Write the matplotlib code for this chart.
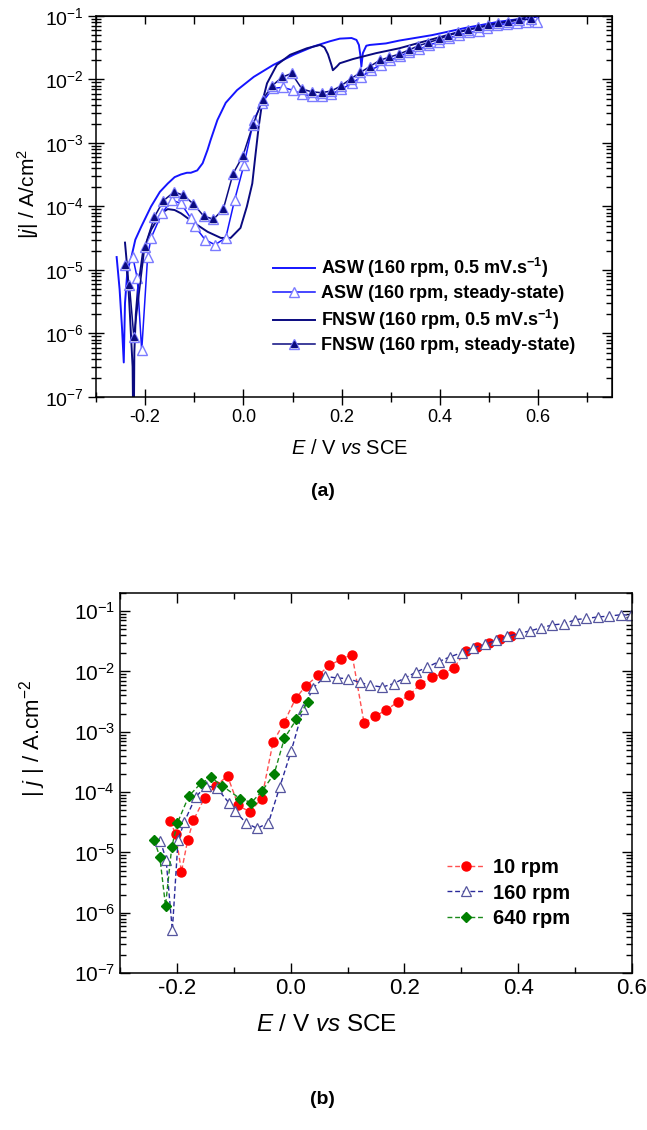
import numpy as np
import matplotlib
matplotlib.use('Agg')
import matplotlib.pyplot as plt
from matplotlib.ticker import MultipleLocator, LogLocator, NullFormatter, FormatStrFormatter
from matplotlib.lines import Line2D
from matplotlib.legend_handler import HandlerTuple

plt.rcParams['font.family'] = ['Liberation Sans', 'DejaVu Sans']
plt.rcParams['mathtext.fontset'] = 'custom'
plt.rcParams['mathtext.rm'] = 'Liberation Sans'
plt.rcParams['mathtext.it'] = 'Liberation Sans:italic'
plt.rcParams['mathtext.bf'] = 'Liberation Sans:bold'
plt.rcParams['mathtext.default'] = 'regular'
plt.rcParams['axes.unicode_minus'] = False

# ---- panel (a) data ----
# ASW, 160 rpm, 0.5 mV/s sweep
asw_pd_E = [-0.258, -0.252, -0.247, -0.2435, -0.241, -0.236, -0.228, -0.220, -0.208, -0.188,
            -0.170, -0.154, -0.140, -0.127, -0.115, -0.107, -0.094, -0.083, -0.073, -0.067,
            -0.053, -0.036, -0.013, 0.021, 0.061, 0.102, 0.142, 0.176, 0.196, 0.220,
            0.230, 0.235, 0.238, 0.240, 0.243, 0.250, 0.257, 0.290, 0.317, 0.384,
            0.452, 0.519, 0.586, 0.600]
asw_pd_j = [1.6e-5, 5e-6, 1.2e-6, 3.5e-7, 3e-6, 1.0e-5, 1.6e-5, 3.0e-5, 4.8e-5, 1.0e-4,
            1.7e-4, 2.3e-4, 2.9e-4, 3.2e-4, 3.4e-4, 3.4e-4, 3.7e-4, 4.8e-4, 7.8e-4, 1.1e-3,
            2.3e-3, 4.3e-3, 6.8e-3, 1.1e-2, 1.7e-2, 2.45e-2, 3.3e-2, 4.0e-2, 4.4e-2, 4.5e-2,
            4.2e-2, 3.5e-2, 2.4e-2, 1.6e-2, 2.6e-2, 3.4e-2, 3.5e-2, 3.7e-2, 4.1e-2, 5.0e-2,
            6.5e-2, 8.1e-2, 9.5e-2, 9.8e-2]

# FNSW, 160 rpm, 0.5 mV/s sweep
fnsw_pd_E = [-0.241, -0.236, -0.231, -0.2255, -0.2235, -0.222, -0.219, -0.215, -0.205, -0.188,
             -0.168, -0.154, -0.140, -0.127, -0.100, -0.073, -0.046, -0.026, -0.006, 0.007,
             0.018, 0.024, 0.031, 0.038, 0.048, 0.068, 0.095, 0.129, 0.156, 0.165,
             0.172, 0.179, 0.182, 0.190, 0.196, 0.223, 0.270, 0.317, 0.384, 0.452,
             0.519, 0.586, 0.600]
fnsw_pd_j = [2.7e-5, 1.0e-5, 2e-6, 3e-7, 1e-8, 5e-7, 2e-6, 4.9e-6, 1.8e-5, 4.3e-5,
             7.8e-5, 9.1e-5, 8.8e-5, 7.8e-5, 5.5e-5, 4.0e-5, 3.2e-5, 3.2e-5, 4.6e-5, 1.0e-4,
             2.3e-4, 6.0e-4, 1.8e-3, 4.3e-3, 8.7e-3, 1.7e-2, 2.45e-2, 3.1e-2, 3.5e-2, 3.2e-2,
             2.5e-2, 1.7e-2, 1.4e-2, 1.6e-2, 1.8e-2, 2.1e-2, 2.6e-2, 3.1e-2, 4.3e-2, 6.0e-2,
             7.6e-2, 9.8e-2, 1.0e-1]

# ASW steady-state
asw_ss_E = [-0.225, -0.216, -0.207, -0.195, -0.188, -0.166, -0.146, -0.127, -0.107, -0.099,
            -0.078, -0.058, -0.036, -0.018, 0.001, 0.021, 0.038, 0.060, 0.081, 0.100,
            0.119, 0.139, 0.159, 0.179, 0.199, 0.220, 0.240, 0.259, 0.279, 0.298,
            0.319, 0.337, 0.358, 0.378, 0.398, 0.418, 0.438, 0.459, 0.479, 0.496,
            0.516, 0.536, 0.556, 0.576, 0.597]
asw_ss_j = [1.58e-5, 7.4e-6, 5.4e-7, 1.6e-5, 3.2e-5, 7.8e-5, 1.26e-4, 1.12e-4, 6.5e-5, 4.9e-5,
            3.0e-5, 2.5e-5, 3.2e-5, 1.26e-4, 4.5e-4, 2.3e-3, 4.3e-3, 7.3e-3, 7.5e-3, 6.8e-3,
            5.9e-3, 5.5e-3, 5.4e-3, 5.9e-3, 7.0e-3, 8.7e-3, 1.1e-2, 1.4e-2, 1.7e-2, 2.0e-2,
            2.35e-2, 2.7e-2, 3.0e-2, 3.5e-2, 3.9e-2, 4.5e-2, 5.0e-2, 5.5e-2, 5.9e-2, 6.4e-2,
            7.2e-2, 7.6e-2, 7.8e-2, 8.1e-2, 8.1e-2]

# FNSW steady-state
fnsw_ss_E = [-0.240, -0.232, -0.223, -0.201, -0.181, -0.163, -0.141, -0.122, -0.102, -0.081,
             -0.061, -0.041, -0.021, -0.001, 0.019, 0.039, 0.058, 0.078, 0.098, 0.119,
             0.139, 0.159, 0.179, 0.198, 0.218, 0.238, 0.257, 0.277, 0.296, 0.316,
             0.336, 0.356, 0.376, 0.397, 0.417, 0.437, 0.457, 0.477, 0.498, 0.518,
             0.538, 0.560, 0.586]
fnsw_ss_j = [1.2e-5, 5.8e-6, 8.9e-7, 2.3e-5, 6.9e-5, 1.23e-4, 1.7e-4, 1.5e-4, 1.1e-4, 7.1e-5,
             6.3e-5, 9.1e-5, 3.3e-4, 6.3e-4, 1.9e-3, 4.8e-3, 7.9e-3, 1.08e-2, 1.25e-2, 7.1e-3,
             6.4e-3, 6.2e-3, 6.6e-3, 7.9e-3, 1.02e-2, 1.29e-2, 1.6e-2, 2.0e-2, 2.24e-2, 2.5e-2,
             2.9e-2, 3.4e-2, 3.8e-2, 4.3e-2, 4.9e-2, 5.5e-2, 6.0e-2, 6.6e-2, 7.2e-2, 7.8e-2,
             8.1e-2, 8.7e-2, 8.9e-2]

# ---- panel (b) data ----
rpm10_E = [-0.212, -0.202, -0.192, -0.181, -0.171, -0.151, -0.132, -0.111, -0.092, -0.072,
           -0.051, -0.031, -0.012, 0.009, 0.027, 0.048, 0.068, 0.089, 0.108, 0.129,
           0.148, 0.168, 0.188, 0.208, 0.228, 0.248, 0.268, 0.287, 0.308, 0.328,
           0.348, 0.368, 0.388]
rpm10_j = [3.3e-5, 2.0e-5, 4.8e-6, 1.6e-5, 3.4e-5, 8.1e-5, 1.26e-4, 1.85e-4, 6.0e-5, 4.7e-5,
           7.8e-5, 6.7e-4, 1.4e-3, 3.6e-3, 5.8e-3, 8.6e-3, 1.26e-2, 1.6e-2, 1.9e-2, 1.4e-3,
           1.8e-3, 2.3e-3, 3.1e-3, 4.0e-3, 6.2e-3, 8.0e-3, 9.2e-3, 1.15e-2, 2.2e-2, 2.5e-2,
           3.0e-2, 3.4e-2, 3.8e-2]

rpm160_E = [-0.229, -0.219, -0.208, -0.198, -0.187, -0.167, -0.148, -0.129, -0.109, -0.098,
            -0.079, -0.059, -0.039, -0.019, 0.001, 0.022, 0.040, 0.061, 0.081, 0.101,
            0.121, 0.140, 0.161, 0.181, 0.201, 0.221, 0.240, 0.260, 0.280, 0.301,
            0.321, 0.341, 0.361, 0.381, 0.401, 0.421, 0.440, 0.460, 0.481, 0.500,
            0.520, 0.540, 0.560, 0.580, 0.598]
rpm160_j = [1.55e-5, 7.6e-6, 5.1e-7, 1.6e-5, 3.2e-5, 8.3e-5, 1.28e-4, 1.15e-4, 6.7e-5, 4.9e-5,
            3.1e-5, 2.5e-5, 3.1e-5, 1.23e-4, 4.8e-4, 2.4e-3, 5.4e-3, 8.3e-3, 7.8e-3, 7.6e-3,
            6.6e-3, 5.9e-3, 5.5e-3, 6.3e-3, 7.8e-3, 9.8e-3, 1.18e-2, 1.45e-2, 1.75e-2, 2.05e-2,
            2.47e-2, 2.8e-2, 3.3e-2, 3.8e-2, 4.3e-2, 4.7e-2, 5.3e-2, 5.9e-2, 6.2e-2, 7.2e-2,
            7.6e-2, 8.0e-2, 8.3e-2, 8.7e-2, 8.6e-2]

rpm640_E = [-0.240, -0.230, -0.220, -0.209, -0.199, -0.179, -0.158, -0.140, -0.120, -0.089,
            -0.069, -0.050, -0.029, -0.011, 0.010, 0.030]
rpm640_j = [1.6e-5, 8.4e-6, 1.3e-6, 1.23e-5, 3.1e-5, 8.6e-5, 1.39e-4, 1.75e-4, 1.26e-4, 7.8e-5,
            6.7e-5, 1.05e-4, 2.0e-4, 7.8e-4, 1.6e-3, 3.1e-3]

c_asw = '#1515ff'
c_fnsw = '#0a0a80'
c_light = '#7b7bff'

fig = plt.figure(figsize=(6.47, 11.3), dpi=100)

# ================= (a) =================
ax1 = fig.add_axes([96/647, 1-397/1130, 516/647, 381/1130])
ax1.set_yscale('log')
ax1.plot(asw_pd_E, asw_pd_j, color=c_asw, lw=1.4)
ax1.plot(fnsw_pd_E, fnsw_pd_j, color=c_fnsw, lw=1.4)
ax1.plot(asw_ss_E, asw_ss_j, color=c_asw, lw=1.1, marker='^', ms=7, mfc='white', mec=c_light, mew=1.0)
ax1.plot(fnsw_ss_E, fnsw_ss_j, color=c_fnsw, lw=1.1, marker='^', ms=7.5, mfc='white', mec=c_light, mew=1.0)
ax1.plot(fnsw_ss_E, fnsw_ss_j, ls='none', marker='^', ms=5, mfc=c_fnsw, mec=c_fnsw)

ax1.set_xlim(-0.3, 0.75)
ax1.set_ylim(1e-7, 1e-1)
ax1.xaxis.set_major_locator(MultipleLocator(0.2))
ax1.xaxis.set_minor_locator(MultipleLocator(0.1))
ax1.xaxis.set_major_formatter(FormatStrFormatter('%.1f'))
ax1.yaxis.set_major_locator(LogLocator(base=10, numticks=20))
ax1.yaxis.set_minor_locator(LogLocator(base=10, subs=np.arange(2, 10), numticks=20))
ax1.yaxis.set_minor_formatter(NullFormatter())
ax1.tick_params(which='major', direction='inout', length=11, width=1.0)
ax1.tick_params(which='minor', direction='inout', length=7, width=1.0)
ax1.tick_params(axis='x', labelsize=13)
ax1.tick_params(axis='y', labelsize=14)
for s in ax1.spines.values():
    s.set_linewidth(1.1)

top1 = ax1.secondary_xaxis('top')
top1.xaxis.set_major_locator(MultipleLocator(0.1))
top1.tick_params(direction='in', length=6, width=1.0, labeltop=False)
right1 = ax1.secondary_yaxis('right')
right1.yaxis.set_major_locator(LogLocator(base=10, numticks=20))
right1.yaxis.set_minor_locator(LogLocator(base=10, subs=np.arange(2, 10), numticks=20))
right1.tick_params(which='major', direction='in', length=7, width=1.0, labelright=False)
right1.tick_params(which='minor', direction='in', length=4, width=1.0, labelright=False)
right1.yaxis.set_minor_formatter(NullFormatter())

ax1.set_xlabel('$\\mathit{E}$ / V $\\mathit{vs}$ SCE', fontsize=14.5)
ax1.xaxis.set_label_coords(0.492, -0.134)
ax1.xaxis.label.set_va('center')
ax1.set_ylabel('|$\\mathit{j}$| / A/cm$^{2}$', fontsize=15)
ax1.yaxis.set_label_coords(-0.132, 0.533)
ax1.yaxis.label.set_va('center')

h1 = Line2D([], [], color=c_asw, lw=1.4)
h2 = Line2D([], [], color=c_asw, lw=1.1, marker='^', ms=7, mfc='white', mec=c_light)
h3 = Line2D([], [], color=c_fnsw, lw=1.4)
h4a = Line2D([], [], color=c_fnsw, lw=1.1, marker='^', ms=7.5, mfc='white', mec=c_light)
h4b = Line2D([], [], ls='none', marker='^', ms=5, mfc=c_fnsw, mec=c_fnsw)
labels_a = ['ASW (160 rpm, 0.5 mV.s$^{\\mathbf{-1}}$)',
            'ASW (160 rpm, steady-state)',
            'FNSW (160 rpm, 0.5 mV.s$^{\\mathbf{-1}}$)',
            'FNSW (160 rpm, steady-state)']
ax1.legend([h1, h2, h3, (h4a, h4b)], labels_a, loc='center left',
           bbox_to_anchor=(0.343, 0.241), frameon=False, borderpad=0, borderaxespad=0,
           handlelength=2.33, handletextpad=0.33, labelspacing=0.3,
           prop={'size': 13, 'weight': 'bold'},
           handler_map={tuple: HandlerTuple(ndivide=1)})

fig.text(323/647, 1-492/1130, '(a)', ha='center', va='center', fontsize=14, fontweight='bold')

# ================= (b) =================
ax2 = fig.add_axes([120/647, 1-973/1130, 512/647, 380/1130])
ax2.set_yscale('log')
ax2.plot(rpm10_E, rpm10_j, ls='--', dashes=(3.5, 2), lw=1.0, color='#ff5050', marker='o', ms=6.5,
         mfc='#ff0000', mec='#ff0000', label='10 rpm')
ax2.plot(rpm160_E, rpm160_j, ls='--', dashes=(3.5, 2), lw=1.0, color='#2a2a9a', marker='^', ms=7.5,
         mfc='white', mec='#55559e', mew=0.9, label='160 rpm')
ax2.plot(rpm640_E, rpm640_j, ls='--', dashes=(3.5, 2), lw=1.0, color='#1a8a1a', marker='D', ms=5.5,
         mfc='#007f00', mec='#007f00', label='640 rpm')

ax2.set_xlim(-0.3, 0.6)
ax2.set_ylim(1e-7, 0.2)
ax2.xaxis.set_major_locator(MultipleLocator(0.2))
ax2.xaxis.set_minor_locator(MultipleLocator(0.1))
ax2.xaxis.set_major_formatter(FormatStrFormatter('%.1f'))
ax2.yaxis.set_major_locator(LogLocator(base=10, numticks=20))
ax2.yaxis.set_minor_locator(LogLocator(base=10, subs=np.arange(2, 10), numticks=20))
ax2.yaxis.set_minor_formatter(NullFormatter())
ax2.tick_params(which='both', direction='in', top=True, right=True)
ax2.tick_params(which='major', length=7, width=1.0)
ax2.tick_params(which='minor', length=4, width=1.0)
ax2.tick_params(axis='x', labelsize=16)
ax2.tick_params(axis='y', labelsize=15)
for s in ax2.spines.values():
    s.set_linewidth(1.1)

ax2.set_xlabel('$\\mathit{E}$ / V $\\mathit{vs}$ SCE', fontsize=17.5)
ax2.xaxis.set_label_coords(0.404, -0.137)
ax2.xaxis.label.set_va('center')
ax2.set_ylabel('| $\\mathit{j}$ | / A.cm$^{-2}$', fontsize=16)
ax2.yaxis.set_label_coords(-0.170, 0.617)
ax2.yaxis.label.set_va('center')

ax2.legend(loc='center left', bbox_to_anchor=(0.639, 0.2105), frameon=False,
           borderpad=0, borderaxespad=0, handlelength=1.9, handletextpad=0.4,
           labelspacing=0.3, prop={'size': 14.5, 'weight': 'bold'})

fig.text(322/647, 1-1100/1130, '(b)', ha='center', va='center', fontsize=14, fontweight='bold')

fig.savefig('out.png', dpi=100)
